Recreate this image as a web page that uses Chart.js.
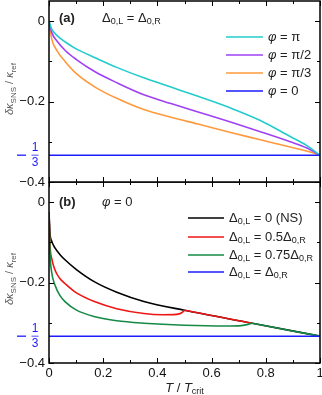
<!DOCTYPE html>
<html>
<head>
<meta charset="utf-8">
<script src="https://cdn.jsdelivr.net/npm/chart.js@4.4.0/dist/chart.umd.min.js"></script>
<style>
  html, body { margin: 0; padding: 0; background: #fff; }
  #wrap { position: relative; width: 322px; height: 395px; }
  canvas { position: absolute; left: 0; }
</style>
</head>
<body>
<div id="wrap">
  <canvas id="chartA" width="322" height="200" style="top:0"></canvas>
  <canvas id="chartB" width="322" height="213" style="top:182px"></canvas>
</div>
<script>
// ---- panel (a): Delta_0,L = Delta_0,R, different phases ----
const tA = [0, 0.01, 0.03, 0.06, 0.1, 0.17, 0.25, 0.35, 0.45, 0.55, 0.67, 0.78, 0.89, 0.95, 1];
const phiPi    = [0, -0.020, -0.036, -0.052, -0.069, -0.091, -0.115, -0.141, -0.164, -0.187, -0.216, -0.247, -0.287, -0.309, -0.3333];
const phiHalf  = [0, -0.028, -0.050, -0.073, -0.095, -0.126, -0.153, -0.183, -0.205, -0.226, -0.251, -0.275, -0.300, -0.315, -0.3333];
const phiThird = [0, -0.044, -0.074, -0.101, -0.130, -0.164, -0.192, -0.220, -0.239, -0.256, -0.277, -0.295, -0.313, -0.323, -0.3333];
const tFlat = [0, 1];
const flat = [-1 / 3, -1 / 3];

// ---- panel (b): phi = 0, different gap ratios ----
const tNS   = [0, 0.004, 0.01, 0.022, 0.04, 0.06, 0.1, 0.17, 0.25, 0.35, 0.5, 0.75, 1];
const kapNS = [-0.025, -0.080, -0.097, -0.114, -0.130, -0.144, -0.167, -0.199, -0.224, -0.247, -0.269, -0.301, -0.3333];
const tHalfLow   = [0, 0.004, 0.01, 0.022, 0.04, 0.06, 0.1, 0.17, 0.25, 0.35, 0.42, 0.47, 0.49, 0.5];
const kapHalfLow = [-0.025, -0.110, -0.140, -0.169, -0.190, -0.203, -0.225, -0.248, -0.265, -0.277, -0.280, -0.279, -0.275, -0.269];
const tHalfTail   = [0.5, 0.75];
const kapHalfTail = [-0.269, -0.301];
const tThreeQLow   = [0, 0.004, 0.01, 0.022, 0.04, 0.06, 0.1, 0.17, 0.25, 0.35, 0.5, 0.65, 0.71, 0.735, 0.75];
const kapThreeQLow = [-0.025, -0.130, -0.175, -0.206, -0.232, -0.248, -0.268, -0.285, -0.295, -0.301, -0.306, -0.308, -0.307, -0.304, -0.301];
const tThreeQTail   = [0.75, 1];
const kapThreeQTail = [-0.301, -0.3333];

// axis ticks
const xMajor = [0, 0.2, 0.4, 0.6, 0.8, 1];
const xMinor = [0.1, 0.3, 0.5, 0.7, 0.9];
const yMajor = [0, -0.2, -0.4];
const yMinor = [-0.1, -0.3];

const FONT = '"Liberation Sans", Arial, Helvetica, sans-serif';
const C = {
  cyan: '#22cccc', purple: '#a040f5', orange: '#ff9a3c', blue: '#1c1cff',
  black: '#000000', red: '#f01515', green: '#158a45'
};

const pts = (xs, ys) => xs.map((x, i) => ({ x: x, y: ys[i] }));

function line(data, color) {
  return {
    data: data, borderColor: color, borderWidth: 1.6, pointRadius: 0,
    fill: false, cubicInterpolationMode: 'monotone'
  };
}

// draw a run of text pieces: [text, kind] with kind n / i / b / s (subscript)
function rich(ctx, x, y, parts, size, measureOnly) {
  let cx = x;
  for (const [t, k] of parts) {
    const fs = k === 's' ? Math.round(size * 0.7) : size;
    const st = k === 'i' ? 'italic ' : (k === 'b' ? 'bold ' : '');
    ctx.font = st + fs + 'px ' + FONT;
    if (!measureOnly) ctx.fillText(t, cx, y + (k === 's' ? size * 0.3 : 0));
    cx += ctx.measureText(t).width;
  }
  return cx - x;
}

const D = (sub) => [['Δ', 'n'], [sub, 's']];

function decorate(cfg) {
  return {
    id: 'decor',
    afterDraw(chart) {
      const ctx = chart.ctx;
      const a = chart.chartArea;
      const xs = chart.scales.x, ys = chart.scales.y;
      ctx.save();
      // frame
      ctx.strokeStyle = '#000';
      ctx.lineWidth = 1.5;
      ctx.strokeRect(a.left, a.top, a.right - a.left, a.bottom - a.top);
      // inward ticks
      ctx.lineWidth = 1;
      ctx.beginPath();
      const tx = (v, len) => {
        const p = Math.round(xs.getPixelForValue(v)) + 0.5;
        ctx.moveTo(p, a.bottom); ctx.lineTo(p, a.bottom - len);
        ctx.moveTo(p, a.top); ctx.lineTo(p, a.top + len);
      };
      const ty = (v, len) => {
        const p = Math.round(ys.getPixelForValue(v)) + 0.5;
        ctx.moveTo(a.left, p); ctx.lineTo(a.left + len, p);
        ctx.moveTo(a.right, p); ctx.lineTo(a.right - len, p);
      };
      xMajor.forEach(v => tx(v, 5)); xMinor.forEach(v => tx(v, 3));
      yMajor.forEach(v => ty(v, 5)); yMinor.forEach(v => ty(v, 3));
      ctx.stroke();

      // -1/3 label in blue
      const py = ys.getPixelForValue(-1 / 3);
      ctx.strokeStyle = C.blue; ctx.fillStyle = C.blue;
      ctx.lineWidth = 1.3;
      ctx.beginPath();
      ctx.moveTo(17, py); ctx.lineTo(26, py);
      ctx.stroke();
      ctx.lineWidth = 0.8;
      ctx.beginPath();
      ctx.moveTo(31.5, py); ctx.lineTo(38.5, py);
      ctx.stroke();
      ctx.font = '12px ' + FONT;
      ctx.textAlign = 'center'; ctx.textBaseline = 'middle';
      ctx.fillText('1', 35, py - 7);
      ctx.fillText('3', 35, py + 7.5);

      // y-axis title
      ctx.textAlign = 'left';
      ctx.fillStyle = '#555';
      const yt = [['δκ', 'i'], ['SNS', 's'], [' / ', 'n'], ['κ', 'i'], ['ref', 's']];
      ctx.save();
      ctx.translate(10, cfg.yTitle);
      ctx.rotate(-Math.PI / 2);
      const w = rich(ctx, 0, 0, yt, 11, true);
      rich(ctx, -w / 2, 0, yt, 11);
      ctx.restore();

      // panel label and annotation
      ctx.fillStyle = '#222';
      rich(ctx, 59, cfg.labelY, [[cfg.label, 'b']], 13);
      rich(ctx, 102, cfg.labelY, cfg.note, 13);

      // legend
      cfg.legend.forEach((e, i) => {
        const y = cfg.legY[i];
        ctx.strokeStyle = e.color; ctx.lineWidth = 1.6;
        ctx.beginPath();
        ctx.moveTo(cfg.legX1, y); ctx.lineTo(cfg.legX2, y);
        ctx.stroke();
        ctx.fillStyle = '#222';
        rich(ctx, cfg.legX2 + 5, y, e.text, 13);
      });

      // x-axis title
      if (cfg.xTitle) {
        const xt = [['T', 'i'], [' / ', 'n'], ['T', 'i'], ['crit', 's']];
        ctx.fillStyle = '#222';
        const w2 = rich(ctx, 0, 0, xt, 13, true);
        rich(ctx, xs.getPixelForValue(0.5) - w2 / 2, cfg.xTitle, xt, 13);
      }
      ctx.restore();
    }
  };
}

function options(showX) {
  return {
    responsive: false,
    animation: false,
    layout: { padding: { top: showX ? 0 : 1, right: 2, bottom: showX ? 0 : 18, left: 0 } },
    plugins: { legend: { display: false }, tooltip: { enabled: false } },
    scales: {
      x: {
        type: 'linear', min: 0, max: 1, display: showX,
        grid: { display: false, drawTicks: false }, border: { display: false },
        afterBuildTicks: s => { s.ticks = xMajor.map(v => ({ value: v })); },
        afterFit: s => {
          if (showX) s.height = 32;
          s.paddingLeft = 0; s.paddingRight = 0;
        },
        ticks: {
          padding: 3, color: '#111', font: { family: FONT, size: 13 },
          callback: v => String(Math.round(v * 10) / 10)
        }
      },
      y: {
        min: -0.4, max: 0.05,
        grid: { display: false, drawTicks: false }, border: { display: false },
        afterBuildTicks: s => { s.ticks = yMajor.map(v => ({ value: v })); },
        afterFit: s => { s.width = 49; s.paddingTop = 0; s.paddingBottom = 0; },
        ticks: {
          padding: 4, color: '#111', font: { family: FONT, size: 13 },
          callback: v => v === 0 ? '0' : '\u2212' + Math.abs(v).toFixed(1)
        }
      }
    }
  };
}

const phi = (rest) => [['φ', 'i'], [' = ' + rest, 'n']];

new Chart(document.getElementById('chartA'), {
  type: 'line',
  data: {
    datasets: [
      line(pts(tFlat, flat), C.blue),
      line(pts(tA, phiPi), C.cyan),
      line(pts(tA, phiHalf), C.purple),
      line(pts(tA, phiThird), C.orange)
    ]
  },
  options: options(false),
  plugins: [decorate({
    yTitle: 89, label: '(a)', labelY: 18,
    note: [...D('0,L'), [' = ', 'n'], ...D('0,R')],
    legX1: 226, legX2: 263, legY: [37, 55, 73, 91],
    legend: [
      { color: C.cyan, text: phi('π') },
      { color: C.purple, text: phi('π/2') },
      { color: C.orange, text: phi('π/3') },
      { color: C.blue, text: phi('0') }
    ]
  })]
});

new Chart(document.getElementById('chartB'), {
  type: 'line',
  data: {
    datasets: [
      line(pts(tFlat, flat), C.blue),
      line(pts(tThreeQTail, kapThreeQTail), C.green),
      line(pts(tThreeQLow, kapThreeQLow), C.green),
      line(pts(tHalfTail, kapHalfTail), C.red),
      line(pts(tHalfLow, kapHalfLow), C.red),
      line(pts(tNS, kapNS), C.black)
    ]
  },
  options: options(true),
  plugins: [decorate({
    yTitle: 97, label: '(b)', labelY: 20,
    note: phi('0'),
    legX1: 188, legX2: 224, legY: [36, 55, 73, 90], xTitle: 206,
    legend: [
      { color: C.black, text: [...D('0,L'), [' = 0 (NS)', 'n']] },
      { color: C.red, text: [...D('0,L'), [' = 0.5', 'n'], ...D('0,R')] },
      { color: C.green, text: [...D('0,L'), [' = 0.75', 'n'], ...D('0,R')] },
      { color: C.blue, text: [...D('0,L'), [' = ', 'n'], ...D('0,R')] }
    ]
  })]
});
</script>
</body>
</html>
